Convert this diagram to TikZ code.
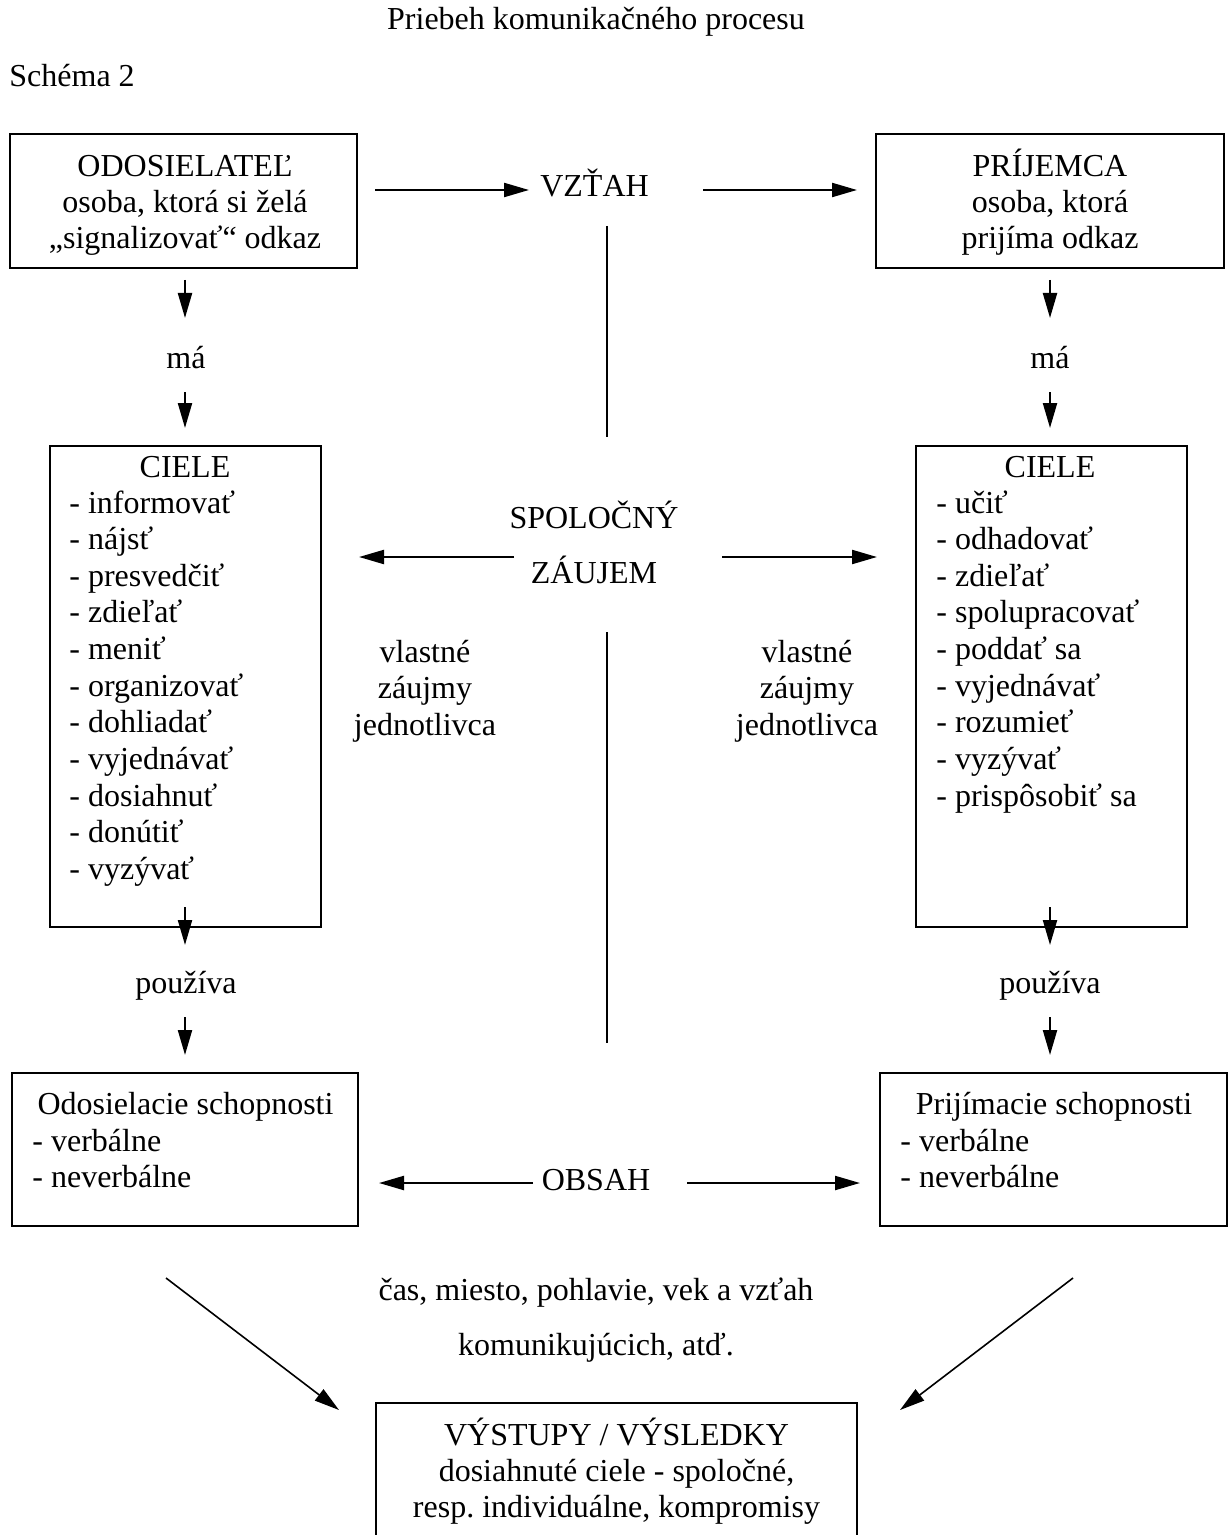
\documentclass[tikz,border=0pt]{standalone}
\usepackage{fontspec}
\setmainfont{Liberation Serif}
\usetikzlibrary{arrows.meta}
\frenchspacing
\begin{document}
\begin{tikzpicture}[x=0.5pt,y=-0.5pt,
  txt/.style={font=\fontsize{16}{18.3}\selectfont, inner sep=0pt, anchor=base},
  lt/.style={txt, anchor=base west},
  box/.style={draw, line width=1.2pt, inner sep=0pt},
  arr/.style={line width=1.1pt, -{Triangle[length=12.5pt,width=7pt]}},
  ln/.style={line width=1.1pt}]
\clip (0,0) rectangle (1231,1535);
\fill[white] (0,0) rectangle (1231,1535);

% titles
\node[txt] (title) at (596,30) {Priebeh komunikačného procesu};
\node[lt] (schema) at (9,87) {Schéma 2};

% boxes
\node[box, minimum width=173.5pt, minimum height=67pt] (snd) at (183.5,201) {};
\node[box, minimum width=174pt, minimum height=67pt] (rcv) at (1050,201) {};
\node[box, minimum width=135.5pt, minimum height=240.5pt] (gl) at (185.5,686.5) {};
\node[box, minimum width=135.5pt, minimum height=240.5pt] (gr) at (1051.5,686.5) {};
\node[box, minimum width=173pt, minimum height=76.5pt] (sk) at (185,1149.5) {};
\node[box, minimum width=173.5pt, minimum height=76.5pt] (pk) at (1053.5,1149.5) {};
\node[box, minimum width=240.5pt, minimum height=83.5pt] (out) at (616.5,1486.5) {};

% sender box text
\node[txt] (snd1) at (185,177) {ODOSIELATEĽ};
\node[txt] (snd2) at (185,213) {osoba, ktorá si želá};
\node[txt] (snd3) at (185,249) {„signalizovať“ odkaz};
% receiver box text
\node[txt] (rcv1) at (1050,177) {PRÍJEMCA};
\node[txt] (rcv2) at (1050,213) {osoba, ktorá};
\node[txt] (rcv3) at (1050,249) {prijíma odkaz};

% middle labels
\node[txt] (vztah) at (594.5,197) {VZŤAH};
\node[txt] (mal) at (186,368) {má};
\node[txt] (mar) at (1050,368) {má};
\node[txt] (spol1) at (594,528) {SPOLOČNÝ};
\node[txt] (spol2) at (594,583) {ZÁUJEM};
\node[txt] (vl1) at (425,662) {vlastné};
\node[txt] (vl2) at (425,698) {záujmy};
\node[txt] (vl3) at (425,735) {jednotlivca};
\node[txt] (vr1) at (807,662) {vlastné};
\node[txt] (vr2) at (807,698) {záujmy};
\node[txt] (vr3) at (807,735) {jednotlivca};
\node[txt] (pouzl) at (186,993) {používa};
\node[txt] (pouzr) at (1050,993) {používa};
\node[txt] (obsah) at (596,1190) {OBSAH};
\node[txt] (cas1) at (596,1300) {čas, miesto, pohlavie, vek a vzťah};
\node[txt] (cas2) at (596,1355) {komunikujúcich, atď.};

% left goals
\node[txt] (glh) at (185,477) {CIELE};
\foreach \t [count=\i from 0] in {informovať, nájsť, presvedčiť, zdieľať, meniť, organizovať, dohliadať, vyjednávať, dosiahnuť, donútiť, vyzývať}
  \node[lt] (gl\i) at (69,513+36.65*\i) {- \t};
% right goals
\node[txt] (grh) at (1050,477) {CIELE};
\foreach \t [count=\i from 0] in {učiť, odhadovať, zdieľať, spolupracovať, poddať sa, vyjednávať, rozumieť, vyzývať, prispôsobiť sa}
  \node[lt] (gr\i) at (936,513+36.65*\i) {- \t};

% skills text
\node[txt] (sk1) at (185.5,1114) {Odosielacie schopnosti};
\node[lt] (sk2) at (32,1151) {- verbálne};
\node[lt] (sk3) at (32,1187) {- neverbálne};
\node[txt] (pk1) at (1054,1114) {Prijímacie schopnosti};
\node[lt] (pk2) at (900,1151) {- verbálne};
\node[lt] (pk3) at (900,1187) {- neverbálne};

% outputs text
\node[txt] (out1) at (616.5,1445) {VÝSTUPY / VÝSLEDKY};
\node[txt] (out2) at (616.5,1481) {dosiahnuté ciele - spoločné,};
\node[txt] (out3) at (616.5,1517) {resp. individuálne, kompromisy};

% connector end points
\coordinate (a1s) at (375,190);  \coordinate (a1e) at (529,190);
\coordinate (a2s) at (703,190);  \coordinate (a2e) at (857,190);
\coordinate (a3s) at (514,557);  \coordinate (a3e) at (359,557);
\coordinate (a4s) at (722,557);  \coordinate (a4e) at (877,557);
\coordinate (a5s) at (533,1183); \coordinate (a5e) at (379,1183);
\coordinate (a6s) at (687,1183); \coordinate (a6e) at (860,1183);
\coordinate (a7s) at (166,1278); \coordinate (a7e) at (339,1410);
\coordinate (a8s) at (1073,1278); \coordinate (a8e) at (900,1410);
\coordinate (l1s) at (607,226);  \coordinate (l1e) at (607,437);
\coordinate (l2s) at (607,632);  \coordinate (l2e) at (607,1043);
\foreach \n/\x in {L/185, R/1050} {
  \coordinate (d1s\n) at (\x,280);  \coordinate (d1e\n) at (\x,318);
  \coordinate (d2s\n) at (\x,392);  \coordinate (d2e\n) at (\x,428);
  \coordinate (d3s\n) at (\x,907);  \coordinate (d3e\n) at (\x,945);
  \coordinate (d4s\n) at (\x,1017); \coordinate (d4e\n) at (\x,1055);
}

% connectors
\draw[arr] (a1s) -- (a1e);
\draw[arr] (a2s) -- (a2e);
\draw[arr] (a3s) -- (a3e);
\draw[arr] (a4s) -- (a4e);
\draw[arr] (a5s) -- (a5e);
\draw[arr] (a6s) -- (a6e);
\draw[arr, line width=0.8pt] (a7s) -- (a7e);
\draw[arr, line width=0.8pt] (a8s) -- (a8e);
\draw[ln] (l1s) -- (l1e);
\draw[ln] (l2s) -- (l2e);
\foreach \n in {L,R} {
  \draw[arr] (d1s\n) -- (d1e\n);
  \draw[arr] (d2s\n) -- (d2e\n);
  \draw[arr] (d3s\n) -- (d3e\n);
  \draw[arr] (d4s\n) -- (d4e\n);
}
\end{tikzpicture}
\end{document}
